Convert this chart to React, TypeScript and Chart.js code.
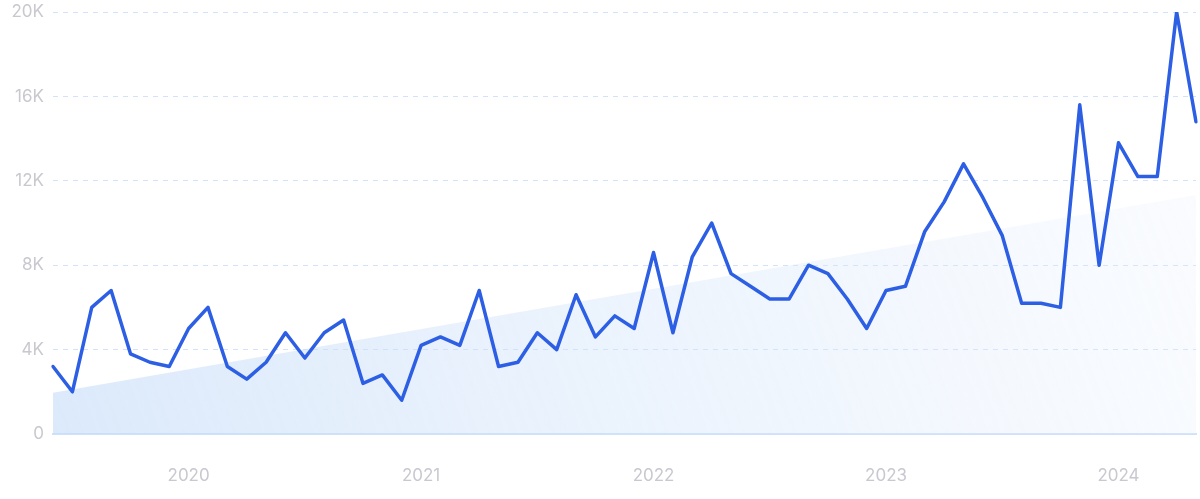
import React, { useEffect, useRef } from "react";
import { Chart, registerables } from "chart.js";

Chart.register(...registerables);

const months: string[] = [
  "Jun 2019", "Jul 2019", "Aug 2019", "Sep 2019", "Oct 2019", "Nov 2019", "Dec 2019",
  "Jan 2020", "Feb 2020", "Mar 2020", "Apr 2020", "May 2020", "Jun 2020", "Jul 2020", "Aug 2020", "Sep 2020", "Oct 2020", "Nov 2020", "Dec 2020",
  "Jan 2021", "Feb 2021", "Mar 2021", "Apr 2021", "May 2021", "Jun 2021", "Jul 2021", "Aug 2021", "Sep 2021", "Oct 2021", "Nov 2021", "Dec 2021",
  "Jan 2022", "Feb 2022", "Mar 2022", "Apr 2022", "May 2022", "Jun 2022", "Jul 2022", "Aug 2022", "Sep 2022", "Oct 2022", "Nov 2022", "Dec 2022",
  "Jan 2023", "Feb 2023", "Mar 2023", "Apr 2023", "May 2023", "Jun 2023", "Jul 2023", "Aug 2023", "Sep 2023", "Oct 2023", "Nov 2023", "Dec 2023",
  "Jan 2024", "Feb 2024", "Mar 2024", "Apr 2024", "May 2024",
];

const searches: number[] = [
  3200, 2000, 6000, 6800, 3800, 3400, 3200,
  5000, 6000, 3200, 2600, 3400, 4800, 3600, 4800, 5400, 2400, 2800, 1600,
  4200, 4600, 4200, 6800, 3200, 3400, 4800, 4000, 6600, 4600, 5600, 5000,
  8600, 4800, 8400, 10000, 7600, 7000, 6400, 6400, 8000, 7600, 6400, 5000,
  6800, 7000, 9600, 11000, 12800, 11200, 9400, 6200, 6200, 6000, 15600, 8000,
  13800, 12200, 12200, 20000, 14800,
];

const trendStart = 1960;
const trendEnd = 11330;

const yTicks: number[] = [0, 4000, 8000, 12000, 16000, 20000];
const yTickLabels: string[] = ["0", "4K", "8K", "12K", "16K", "20K"];

const trend: (number | null)[] = months.map((_, i) =>
  i === 0 ? trendStart : i === months.length - 1 ? trendEnd : null
);

export default function App() {
  const ref = useRef<HTMLCanvasElement | null>(null);

  useEffect(() => {
    if (!ref.current) return;
    const font = { family: "Inter, 'Noto Sans', sans-serif", size: 17, weight: 400 as any };
    const labelColor = "#c8c8d0";
    const chart = new Chart(ref.current, {
      type: "line",
      data: {
        labels: months,
        datasets: [
          {
            label: "Searches",
            data: searches,
            borderColor: "#2d5fe4",
            borderWidth: 3.5,
            borderJoinStyle: "round",
            borderCapStyle: "round",
            pointRadius: 0,
            tension: 0,
            fill: false,
            order: 0,
          },
          {
            label: "Trend",
            data: trend,
            spanGaps: true,
            borderWidth: 0,
            borderColor: "rgba(0,0,0,0)",
            pointRadius: 0,
            fill: "origin",
            order: 1,
            backgroundColor: (ctx: any) => {
              const { chart } = ctx;
              const area = chart.chartArea;
              if (!area) return "rgba(200,222,250,0.5)";
              const g = chart.ctx.createLinearGradient(area.left, area.bottom, area.right, area.top);
              g.addColorStop(0, "rgba(196,219,248,0.6)");
              g.addColorStop(0.5, "rgba(210,228,250,0.4)");
              g.addColorStop(1, "rgba(232,240,253,0.2)");
              return g;
            },
          },
        ],
      },
      options: {
        animation: false,
        responsive: true,
        maintainAspectRatio: false,
        layout: { padding: { top: 12, right: 4, left: 0, bottom: 0 } },
        plugins: { legend: { display: false }, tooltip: { enabled: false } },
        scales: {
          x: {
            type: "category",
            offset: false,
            grid: { display: true, drawOnChartArea: false, drawTicks: false },
            border: { display: true, color: "#d0e2fb", width: 2 },
            ticks: {
              autoSkip: false,
              maxRotation: 0,
              minRotation: 0,
              padding: 32,
              color: labelColor,
              font,
              callback: (_v: any, i: number) =>
                months[i].startsWith("Jan") ? months[i].slice(4) : "",
            },
            afterFit: (s: any) => {
              s.height = 65;
              s.paddingLeft = 0;
              s.paddingRight = 0;
            },
          },
          y: {
            min: 0,
            max: 20000,
            afterBuildTicks: (s: any) => {
              s.ticks = yTicks.map((v) => ({ value: v }));
            },
            grid: {
              drawTicks: false,
              lineWidth: 1,
              color: (ctx: any) => (ctx.tick && ctx.tick.value === 0 ? "rgba(0,0,0,0)" : "#d2e2fb"),
            },
            border: { display: false, dash: [5, 5] },
            ticks: {
              padding: 9,
              color: labelColor,
              font,
              callback: (v: any) => {
                const idx = yTicks.indexOf(Number(v));
                return idx >= 0 ? yTickLabels[idx] : "";
              },
            },
            afterFit: (s: any) => {
              s.width = 53;
              s.paddingTop = 0;
              s.paddingBottom = 0;
            },
          },
        },
      },
    });
    return () => chart.destroy();
  }, []);

  return (
    <div style={{ position: "fixed", left: 0, top: 0, width: 1200, height: 499, background: "#fff" }}>
      <canvas ref={ref} />
    </div>
  );
}
